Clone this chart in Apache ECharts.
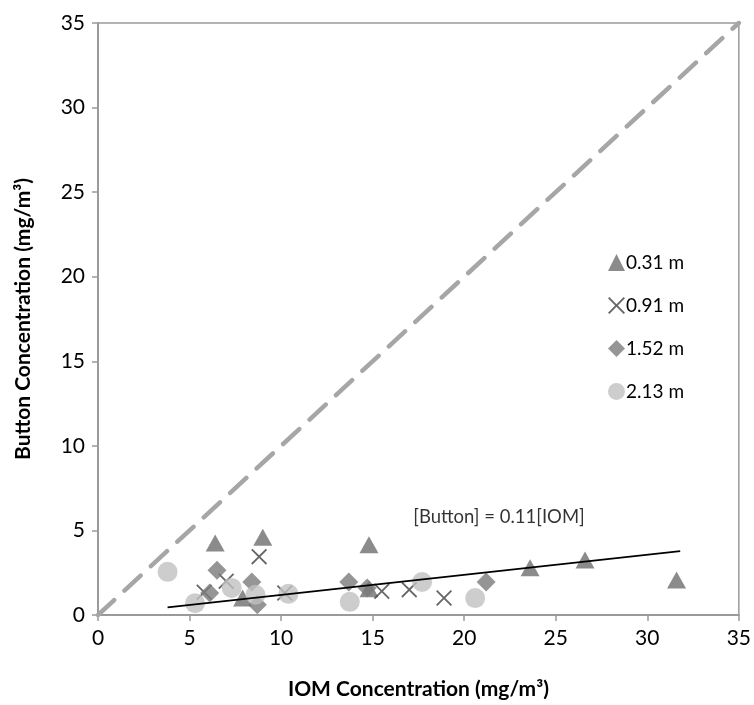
<!DOCTYPE html>
<html>
<head>
<meta charset="utf-8">
<script src="https://cdn.jsdelivr.net/npm/echarts@6/dist/echarts.min.js"></script>
<style>html,body{margin:0;padding:0;background:#fff}#c{width:754px;height:705px}</style>
</head>
<body>
<div id="c"></div>
<script>
var xTicks = [0, 5, 10, 15, 20, 25, 30, 35];
var yTicks = [0, 5, 10, 15, 20, 25, 30, 35];
var seriesNames = ['0.31 m', '0.91 m', '1.52 m', '2.13 m'];
var d031 = [[6.4, 4.25], [9.0, 4.6], [14.8, 4.15], [23.6, 2.8], [26.6, 3.25], [31.6, 2.07], [7.9, 1.0], [14.8, 1.55]];
var d091 = [[8.8, 3.45], [5.8, 1.35], [7.0, 2.0], [10.2, 1.3], [15.5, 1.4], [17.0, 1.5], [18.9, 1.0]];
var d152 = [[6.5, 2.65], [6.1, 1.3], [8.4, 1.95], [8.7, 0.6], [13.7, 1.95], [14.7, 1.6], [21.2, 1.95]];
var d213 = [[3.8, 2.55], [5.3, 0.7], [7.3, 1.6], [8.6, 1.2], [10.4, 1.25], [13.75, 0.78], [17.7, 1.95], [20.6, 1.0]];
var oneToOne = [[0, 0], [35, 35]];
var trend = [[3.8, 0.45], [31.8, 3.78]];
var trendLabel = '[Button] = 0.11[IOM]';
var trendLabelPos = [21.9, 5.8];

var crossPath = 'path://M0,8 L8,0 L50,42 L92,0 L100,8 L58,50 L100,92 L92,100 L50,58 L8,100 L0,92 L42,50 Z';
var font = 'Lato, "Open Sans", sans-serif';

var chart = echarts.init(document.getElementById('c'));
chart.setOption({
  animation: false,
  grid: { left: 98, right: 14, top: 23, bottom: 90, show: true, borderColor: '#9a9a9a', borderWidth: 1.5, backgroundColor: 'transparent' },
  xAxis: {
    type: 'value', min: 0, max: 35, interval: 5,
    name: 'IOM Concentration (mg/m³)', nameLocation: 'middle', nameGap: 64,
    nameTextStyle: { fontFamily: font, fontSize: 21, fontWeight: 'bold', color: '#000' },
    axisLine: { show: true, lineStyle: { color: '#9a9a9a', width: 2 } },
    axisTick: { show: true, inside: false, length: 6, lineStyle: { color: '#9a9a9a', width: 1.5 } },
    axisLabel: { fontFamily: font, fontSize: 21, color: '#000', margin: 13, formatter: function (v) { return xTicks.indexOf(v) >= 0 ? String(v) : ''; } },
    splitLine: { show: false }
  },
  yAxis: {
    type: 'value', min: 0, max: 35, interval: 5,
    name: 'Button Concentration (mg/m³)', nameLocation: 'middle', nameGap: 64,
    nameTextStyle: { fontFamily: font, fontSize: 21, fontWeight: 'bold', color: '#000' },
    axisLine: { show: true, lineStyle: { color: '#9a9a9a', width: 2 } },
    axisTick: { show: true, inside: false, length: 6, lineStyle: { color: '#9a9a9a', width: 1.5 } },
    axisLabel: { fontFamily: font, fontSize: 21, color: '#000', margin: 13, formatter: function (v) { return yTicks.indexOf(v) >= 0 ? String(v) : ''; } },
    splitLine: { show: false }
  },
  legend: {
    orient: 'vertical', left: 603, top: 248, itemGap: 24, itemWidth: 17, itemHeight: 17,
    textStyle: { fontFamily: font, fontSize: 19, color: '#000', padding: [0, 0, 0, -4] },
    data: [
      { name: seriesNames[0], icon: 'triangle' },
      { name: seriesNames[1], icon: crossPath },
      { name: seriesNames[2], icon: 'diamond' },
      { name: seriesNames[3], icon: 'circle' }
    ]
  },
  series: [
    { type: 'line', data: oneToOne, symbol: 'none', silent: true, lineStyle: { color: '#a6a6a6', width: 4.5, type: [22, 14], cap: 'round' }, z: 1 },
    { name: seriesNames[0], type: 'scatter', data: d031, symbol: 'triangle', symbolSize: [19, 17], itemStyle: { color: '#6e6e6e' }, z: 3 },
    { name: seriesNames[1], type: 'scatter', data: d091, symbol: crossPath, symbolSize: 16, itemStyle: { color: '#404040' }, z: 4 },
    { name: seriesNames[2], type: 'scatter', data: d152, symbol: 'diamond', symbolSize: [19, 19], itemStyle: { color: '#7a7a7a' }, z: 5 },
    { name: seriesNames[3], type: 'scatter', data: d213, symbol: 'circle', symbolSize: 20, itemStyle: { color: '#c0c0c0' }, z: 6 },
    { type: 'line', data: trend, symbol: 'none', silent: true, lineStyle: { color: '#000', width: 1.8 }, z: 7 },
    { type: 'scatter', data: [trendLabelPos], symbolSize: 0, silent: true, z: 8,
      label: { show: true, position: 'inside', formatter: trendLabel, fontFamily: font, fontSize: 18.5, color: '#000' } }
  ]
});
</script>
</body>
</html>
